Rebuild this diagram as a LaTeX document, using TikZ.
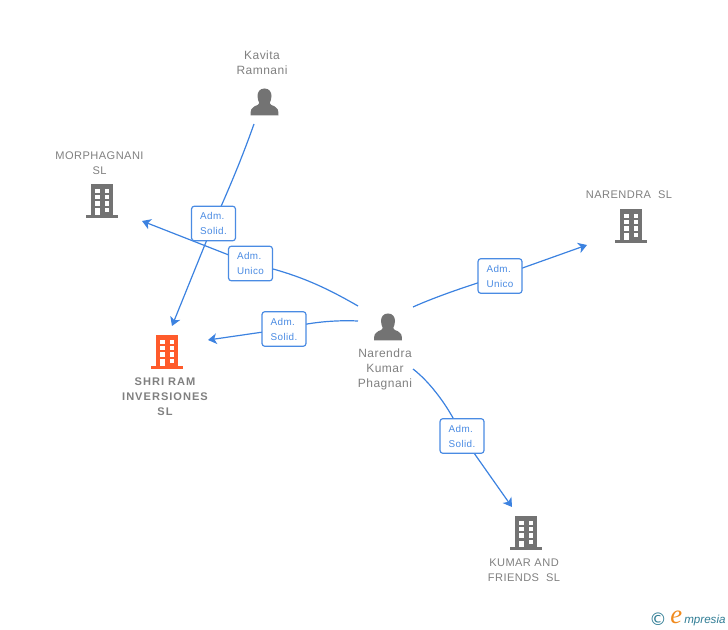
\documentclass[tikz,border=0pt]{standalone}
\usepackage{fontspec}
\setmainfont{Liberation Sans}
\newfontfamily\lsp[LetterSpace=4]{Liberation Sans}
\newfontfamily\lspb[LetterSpace=9]{Liberation Sans}
\newfontfamily\logofont{Liberation Serif}
\newfontfamily\logosans{Liberation Sans}
\newfontfamily\symfont{DejaVu Sans}
\usetikzlibrary{arrows.meta}
\definecolor{edgeblue}{HTML}{3C82E0}
\definecolor{labelblue}{HTML}{4A8BE3}
\definecolor{icongray}{HTML}{737373}
\definecolor{textgray}{HTML}{808080}
\definecolor{hilite}{HTML}{FF5B2B}
\definecolor{logoteal}{HTML}{2F7C94}
\definecolor{logoorange}{HTML}{F08A1D}
\tikzset{
  x=0.75pt,y=-0.75pt,
  edgeline/.style={draw=edgeblue,line width=0.9pt},
  edgearrow/.style={edgeline,-{Stealth[length=6.5pt,width=8pt,inset=1.8pt]}},
  rolebox/.style={draw=labelblue,line width=0.9pt,fill=white,rounded corners=2.2pt,minimum width=33pt,minimum height=26pt,inner sep=0pt,text=labelblue,font=\fontsize{7.4pt}{11.25pt}\selectfont\lsp,align=left},
  entitytext/.style={text=textgray,font=\fontsize{8.3pt}{11.25pt}\selectfont\lsp,align=center,inner sep=0pt},
  persontext/.style={text=textgray,font=\fontsize{9pt}{11.25pt}\selectfont\lsp,align=center,inner sep=0pt},
  boldtext/.style={text=textgray,font=\fontsize{8.3pt}{11.25pt}\selectfont\bfseries\lspb,align=center,inner sep=0pt},
  pics/building/.style={code={
    \fill[#1] (-11,0) rectangle (11,31);
    \fill[#1] (-16,31) rectangle (16,34);
    \foreach \r in {4.7,11,17.4}{
      \fill[white] (-7.3,\r) rectangle (-2.5,\r+4.3);
      \fill[white] (2.5,\r) rectangle (7.3,\r+4.3);
    }
    \fill[white] (2.5,23.7) rectangle (7.3,28.2);
    \fill[white] (-7.3,24.5) rectangle (-2.5,31);
  }},
  pics/person/.style={code={
    \fill[#1] (0,0) .. controls (4.8,0) and (7,3.5) .. (7,7.5)
      .. controls (7,10.5) and (6,13) .. (5.2,14.5)
      .. controls (5.2,16) and (7.5,17) .. (10,17.8)
      .. controls (13,18.8) and (14,21.5) .. (14,27)
      -- (-14,27)
      .. controls (-14,21.5) and (-13,18.8) .. (-10,17.8)
      .. controls (-7.5,17) and (-5.2,16) .. (-5.2,14.5)
      .. controls (-6,13) and (-7,10.5) .. (-7,7.5)
      .. controls (-7,3.5) and (-4.8,0) .. (0,0) -- cycle;
  }}
}
\begin{document}
\begin{tikzpicture}
\useasboundingbox (0,0) rectangle (728,630);
% icons
\pic at (102,184) {building=icongray};
\pic at (167,335) {building=hilite};
\pic at (631,209) {building=icongray};
\pic at (526,516) {building=icongray};
\pic at (264.5,88.5) {person=icongray};
\pic at (388,313.5) {person=icongray};
% entity labels
\node[entitytext] (morph) at (99.5,163) {MORPHAGNANI\\SL};
\node[boldtext] (shri) at (165,396.5) {SHRI RAM\\INVERSIONES\\SL};
\node[entitytext] (nsl) at (629,195) {NARENDRA\ \ SL};
\node[entitytext] (kumar) at (524,570) {KUMAR AND\\FRIENDS\ \ SL};
\node[persontext] (kavita) at (262,62.5) {Kavita\\Ramnani};
\node[persontext] (narendra) at (385,369) {Narendra\\Kumar\\Phagnani};
% connector ends
\coordinate (kavS) at (254,124);
\coordinate (shriT) at (172,326);
\coordinate (narA) at (358,306);
\coordinate (narB) at (358,321);
\coordinate (narC) at (413,307);
\coordinate (narD) at (413,369);
\coordinate (morphT) at (142,221);
\coordinate (shriR) at (208,340);
\coordinate (nslT) at (587,245);
\coordinate (kumT) at (512,507);
% role boxes positions
\coordinate (b1) at (213.5,223.5);
\coordinate (b2) at (250.5,263.5);
\coordinate (b3) at (284,329);
\coordinate (b4) at (500,276);
\coordinate (b5) at (462,436);
% connectors
\draw[edgeline] (kavS) .. controls (243,155) and (232,182) .. (b1);
\draw[edgearrow] (b1) -- (shriT);
\draw[edgeline] (narA) .. controls (330,290) and (300,274) .. (b2);
\draw[edgearrow] (b2) -- (morphT);
\draw[edgeline] (narB) .. controls (335,320) and (310,322) .. (b3);
\draw[edgearrow] (b3) -- (shriR);
\draw[edgeline] (narC) .. controls (435,297) and (470,285) .. (b4);
\draw[edgearrow] (b4) -- (nslT);
\draw[edgeline] (narD) .. controls (430,382) and (450,408) .. (b5);
\draw[edgearrow] (b5) -- (kumT);
% role boxes
\node[rolebox] (r1) at (b1) {Adm.\\Solid.};
\node[rolebox] (r2) at (b2) {Adm.\\Unico};
\node[rolebox] (r3) at (b3) {Adm.\\Solid.};
\node[rolebox] (r4) at (b4) {Adm.\\Unico};
\node[rolebox] (r5) at (b5) {Adm.\\Solid.};
% logo
\node[anchor=west,inner sep=0pt,text=logoteal,font=\fontsize{13pt}{14pt}\selectfont\symfont] (copy) at (649,619) {©};
\node[anchor=west,inner sep=0pt,text=logoorange,font=\fontsize{20pt}{22pt}\selectfont\logofont\itshape] (elogo) at (670,617) {e};
\node[anchor=west,inner sep=0pt,text=logoteal,font=\fontsize{8.7pt}{12pt}\selectfont\logosans\itshape] (mlogo) at (684,620) {mpresia};
\end{tikzpicture}
\end{document}
